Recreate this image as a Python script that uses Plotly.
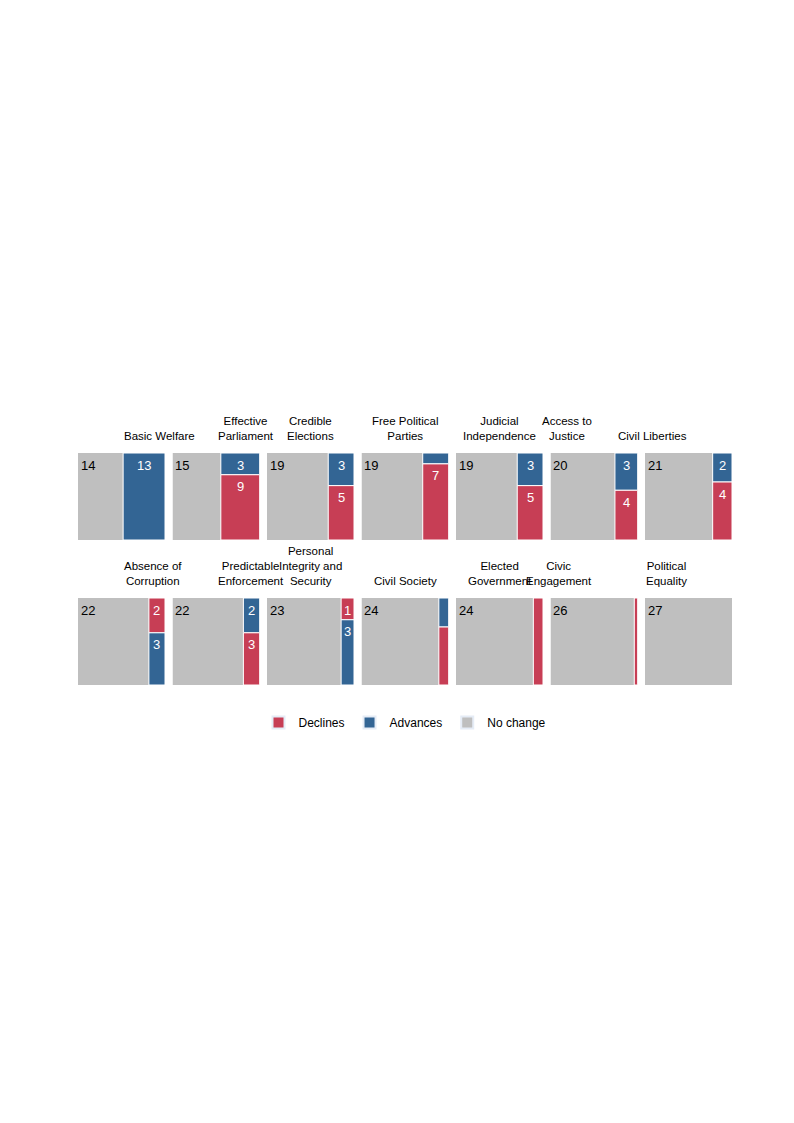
import plotly.graph_objects as go

titles = ["Basic Welfare", "Effective<br>Parliament", "Credible<br>Elections", "Free Political<br>Parties",
          "Judicial<br>Independence", "Access to<br>Justice", "Civil Liberties",
          "Absence of<br>Corruption", "Predictable<br>Enforcement", "Personal<br>Integrity and<br>Security",
          "Civil Society", "Elected<br>Government", "Civic<br>Engagement", "Political<br>Equality"]
no_change = [14, 15, 19, 19, 19, 20, 21, 22, 22, 23, 24, 24, 26, 27]
advances = [13, 3, 3, 1, 3, 3, 2, 3, 2, 3, 1, 0, 0, 0]
declines = [0, 9, 5, 7, 5, 4, 4, 2, 3, 1, 2, 3, 1, 0]
top_seg = ["adv", "adv", "adv", "adv", "adv", "adv", "adv", "dec", "adv", "dec", "adv", "adv", "adv", "adv"]

RED, BLUE, GREY = "#C73E55", "#336594", "#BFBFBF"
W, H = 794, 1123
fig = go.Figure()
lefts = [70, 164.5, 259, 353.5, 448, 542.5, 637]
pw = 87
rows = [(445, 532), (590, 677)]
for i in range(14):
    r, c = divmod(i, 7)
    k = i + 1
    xd = [lefts[c] / W, (lefts[c] + pw) / W]
    yd = [1 - rows[r][1] / H, 1 - rows[r][0] / H]
    xa, ya = ("xaxis" if k == 1 else f"xaxis{k}"), ("yaxis" if k == 1 else f"yaxis{k}")
    xr, yr = ("x" if k == 1 else f"x{k}"), ("y" if k == 1 else f"y{k}")
    fig.layout[xa] = dict(domain=xd, range=[0, 27], visible=False, anchor=yr, fixedrange=True)
    fig.layout[ya] = dict(domain=yd, range=[0, 1], visible=False, anchor=xr, fixedrange=True)
    nc, a, d = no_change[i], advances[i], declines[i]
    rw = 27 - nc
    fig.add_trace(go.Bar(x=[nc / 2], y=[1], width=[nc], base=[0], marker=dict(color=GREY, line=dict(width=0)),
                         xaxis=xr, yaxis=yr, showlegend=False, hoverinfo="skip"))
    fig.add_annotation(x=0.3, y=0.97, xref=xr, yref=yr, text=str(nc), showarrow=False, xanchor="left",
                       yanchor="top", font=dict(size=13, color="black"))
    tot = a + d
    if tot:
        segs = [("adv", a, BLUE), ("dec", d, RED)]
        if top_seg[i] == "dec":
            segs = segs[::-1]
        top = 1.0
        for name, v, col in segs:
            if v == 0:
                continue
            h = v / tot
            fig.add_trace(go.Bar(x=[nc + rw / 2], y=[h], width=[rw], base=[top - h],
                                 marker=dict(color=col, line=dict(color="white", width=1)),
                                 xaxis=xr, yaxis=yr, showlegend=False, hoverinfo="skip"))
            if rw >= 4 and h >= 0.2:
                fig.add_annotation(x=nc + rw / 2, y=top - 0.03, xref=xr, yref=yr, text=str(v), showarrow=False,
                                   yanchor="top", font=dict(size=13, color="white"))
            top -= h
    fig.add_annotation(x=(lefts[c] + pw / 2) / W, y=1 - (rows[r][0] - 9) / H, xref="paper", yref="paper",
                       text=titles[i], showarrow=False, yanchor="bottom", font=dict(size=11.5, color="black"))

for name, col in [("Declines", RED), ("Advances", BLUE), ("No change", GREY)]:
    fig.add_trace(go.Bar(x=[None], y=[None], name=name, marker=dict(color=col), xaxis="x", yaxis="y"))

fig.update_layout(width=W, height=H, margin=dict(l=0, r=0, t=0, b=0), barmode="overlay",
                  paper_bgcolor="white", plot_bgcolor="white",
                  font=dict(family="Liberation Sans, Arial, sans-serif", size=12, color="black"),
                  legend=dict(orientation="h", x=0.5, xanchor="center", y=1 - 700 / H, yanchor="top",
                              font=dict(size=12), itemsizing="constant"))
fig.write_html("out.html")
